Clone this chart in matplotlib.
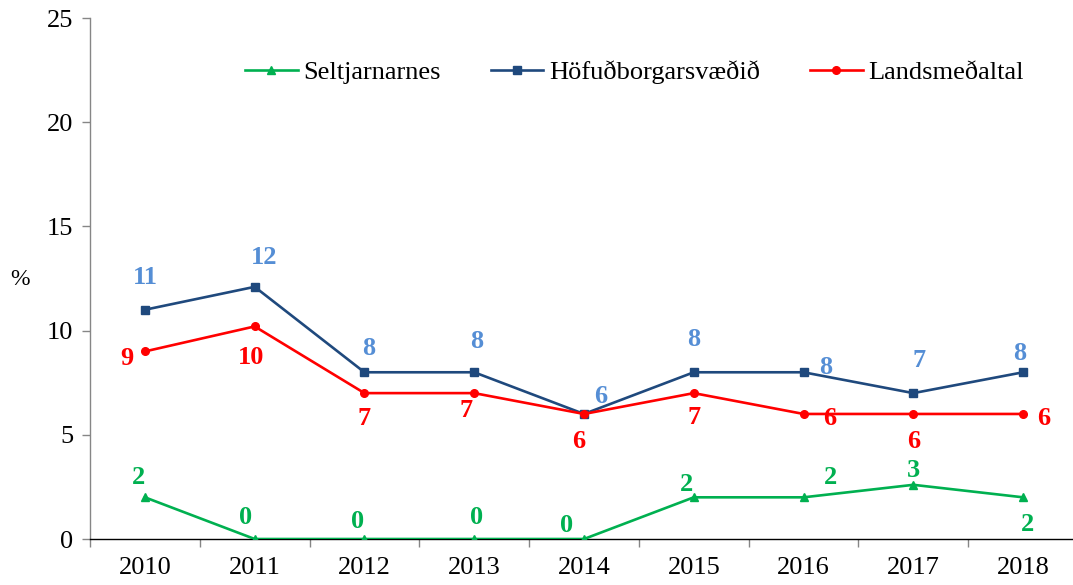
import matplotlib
matplotlib.use("Agg")
import matplotlib.pyplot as plt
from matplotlib.ticker import FixedLocator

years = ["2010", "2011", "2012", "2013", "2014", "2015", "2016", "2017", "2018"]
seltjarnarnes = [2.0, 0.0, 0.0, 0.0, 0.0, 2.0, 2.0, 2.6, 2.0]
hofudborg = [11.0, 12.1, 8.0, 8.0, 6.0, 8.0, 8.0, 7.0, 8.0]
lands = [9.0, 10.2, 7.0, 7.0, 6.0, 7.0, 6.0, 6.0, 6.0]
series_names = ["Seltjarnarnes", "Höfuðborgarsvæðið", "Landsmeðaltal"]
yticks = [0, 5, 10, 15, 20, 25]

# label offsets in pixels (dx, dy)
off_green = [(-6, 20), (-9, 21), (-7, 18), (2, 22), (-17, 13), (-7, 13), (27, 20), (0, 14), (4, -27)]
off_blue = [(0, 32), (9, 29), (4, 24), (2, 31), (17, 17), (0, 33), (22, 5), (6, 33), (-3, 19)]
off_red = [(-18, -7), (-4, -31), (0, -25), (-8, -17), (-5, -28), (0, -24), (26, -5), (0, -28), (21, -5)]

plt.rcParams['font.family'] = ['Liberation Serif', 'DejaVu Serif']

W, H = 1073, 585
fig = plt.figure(figsize=(W / 100, H / 100), dpi=100)
ax = fig.add_axes([90 / W, 46 / H, 988 / W, 521 / H])

x = list(range(len(years)))
c_green, c_blue, c_red = "#00B050", "#1F497D", "#FF0000"
c_blue_lbl = "#558ED5"

ax.plot(x, seltjarnarnes, color=c_green, lw=1.9, marker="^", ms=5.5, label=series_names[0], zorder=3)
ax.plot(x, hofudborg, color=c_blue, lw=1.9, marker="s", ms=5.5, label=series_names[1], zorder=3)
ax.plot(x, lands, color=c_red, lw=1.9, marker="o", ms=5.5, label=series_names[2], zorder=3)

for vals, offs, col in [(seltjarnarnes, off_green, c_green), (hofudborg, off_blue, c_blue_lbl), (lands, off_red, c_red)]:
    for i, (v, o) in enumerate(zip(vals, offs)):
        ax.annotate(f"{round(v):d}", (i, v), xytext=o, textcoords="offset pixels",
                    ha="center", va="center", fontsize=19, fontweight="bold", color=col, zorder=4)

ax.set_xlim(-0.5, 8.5)
ax.set_ylim(0, 25)
ax.set_yticks(yticks)
ax.set_xticks(x)
ax.set_xticklabels(years)
ax.xaxis.set_minor_locator(FixedLocator([i + 0.5 for i in range(-1, 9)]))
ax.tick_params(axis="x", which="major", length=0, pad=13, labelsize=19)
ax.tick_params(axis="x", which="minor", length=6, color="#868686", width=1)
ax.tick_params(axis="y", which="major", length=6, color="#868686", width=1, pad=6, labelsize=19)

for s in ["top", "right"]:
    ax.spines[s].set_visible(False)
ax.spines["left"].set_color("#868686")
ax.spines["bottom"].set_color("#000000")
ax.spines["left"].set_linewidth(1)
ax.spines["bottom"].set_linewidth(1)

ax.set_ylabel("%", rotation=0, fontsize=17, va="center", ha="center")
ax.yaxis.set_label_coords(-70 / 988, (539 - 279) / 521)

leg = fig.legend(loc="center left", bbox_to_anchor=(245 / W, 1 - 72 / H), ncol=3, frameon=False,
                 fontsize=19, handlelength=2.0, handletextpad=0.2, columnspacing=1.9, borderpad=0,
                 borderaxespad=0)

fig.savefig("out.png", dpi=100)
